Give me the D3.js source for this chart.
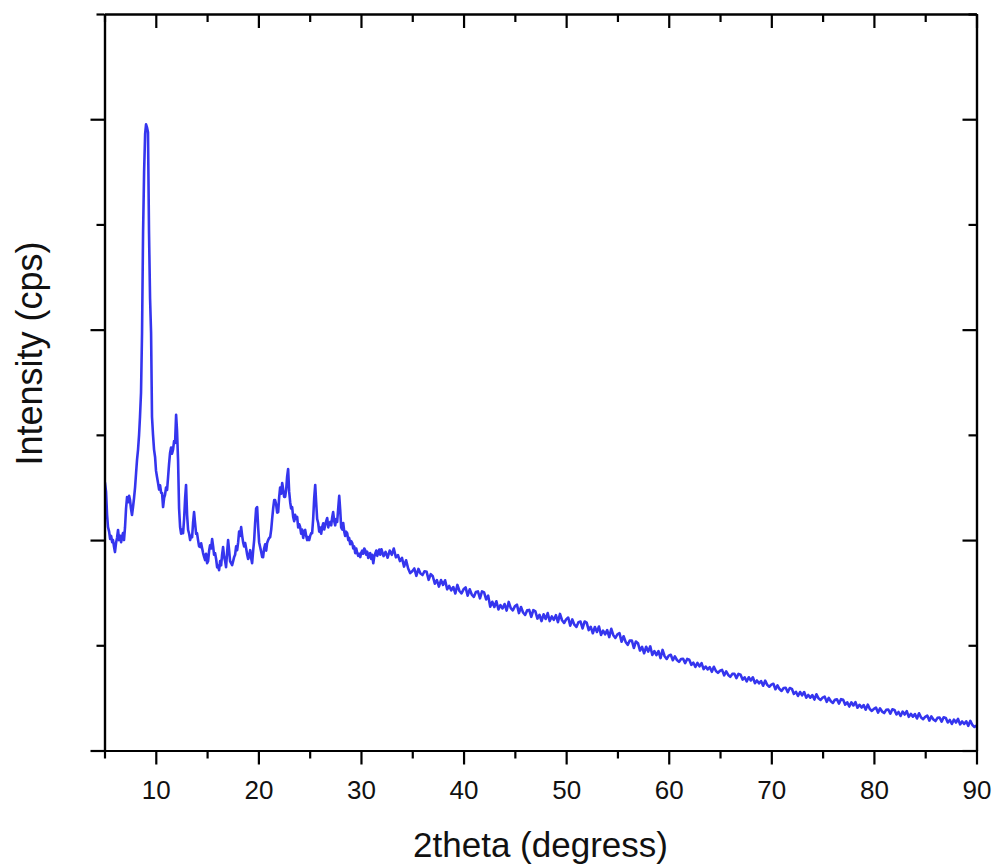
<!DOCTYPE html>
<html>
<head>
<meta charset="utf-8">
<script src="https://cdn.jsdelivr.net/npm/d3@7"></script>
<style>
  html, body { margin: 0; padding: 0; background: #fff; }
  svg { display: block; }
  text { font-family: "Liberation Sans", Arial, Helvetica, sans-serif; fill: #111; }
</style>
</head>
<body>
<svg id="chart" width="998" height="868"></svg>
<script>
// ---------------- DATA ----------------
const xMajorTicks = [10, 20, 30, 40, 50, 60, 70, 80, 90];
const xMinorTicks = [5, 15, 25, 35, 45, 55, 65, 75, 85];
const yMajorTicks = [0, 1000, 2000, 3000];
const yMinorTicks = [500, 1500, 2500, 3500];

// Low-angle region (5° - 32°)
const lowAngleTheta = [
 5.00,5.05,5.15,5.25,5.34,5.45,5.55,5.65,5.75,5.83,5.92,6.02,6.12,6.22,6.32,6.42,6.52,6.62,6.71,6.80,
 6.90,7.00,7.10,7.20,7.30,7.40,7.49,7.58,7.68,7.78,7.88,7.98,8.08,8.17,8.27,8.37,8.46,8.56,8.66,8.76,
 8.86,8.96,9.05,9.15,9.24,9.34,9.44,9.54,9.63,9.73,9.83,9.93,10.02,10.12,10.22,10.32,10.42,10.52,10.61,10.71,
 10.81,10.90,11.00,11.10,11.20,11.29,11.39,11.49,11.58,11.68,11.78,11.88,11.98,12.07,12.17,12.27,12.37,12.47,12.56,12.66,
 12.76,12.86,12.95,13.05,13.15,13.25,13.35,13.44,13.54,13.63,13.73,13.83,13.93,14.02,14.12,14.22,14.32,14.42,14.52,14.61,
 14.71,14.81,14.90,15.00,15.10,15.20,15.29,15.39,15.49,15.59,15.68,15.78,15.88,15.98,16.07,16.17,16.27,16.37,16.46,16.56,
 16.66,16.76,16.85,16.95,17.05,17.15,17.24,17.34,17.44,17.54,17.64,17.73,17.83,17.93,18.03,18.12,18.22,18.32,18.42,18.51,
 18.61,18.71,18.81,18.91,19.00,19.10,19.20,19.29,19.39,19.49,19.59,19.68,19.78,19.88,19.98,20.07,20.17,20.27,20.37,20.46,
 20.56,20.66,20.76,20.85,20.95,21.05,21.15,21.25,21.34,21.44,21.54,21.63,21.73,21.83,21.93,22.02,22.12,22.22,22.32,22.42,
 22.51,22.61,22.71,22.80,22.90,23.00,23.10,23.19,23.29,23.39,23.49,23.58,23.68,23.78,23.88,23.98,24.07,24.17,24.27,24.37,
 24.46,24.56,24.66,24.76,24.85,24.95,25.05,25.15,25.24,25.34,25.44,25.54,25.63,25.73,25.83,25.93,26.02,26.12,26.22,26.32,
 26.42,26.51,26.61,26.71,26.81,26.90,27.00,27.10,27.20,27.29,27.39,27.49,27.58,27.68,27.78,27.88,27.98,28.07,28.17,28.27,
 28.37,28.46,28.56,28.66,28.76,28.85,28.95,29.05,29.15,29.25,29.34,29.44,29.54,29.63,29.73,29.83,29.93,30.02,30.12,30.22,
 30.32,30.41,30.51,30.61,30.71,30.80,30.90,31.00,31.10,31.20,31.29,31.39,31.49,31.59,31.68,31.78,31.88
];
const lowAngleCounts = [
 1280,1271,1230,1120,1062,1040,1005,1020,990,1000,970,943,985,1010,1048,1000,1020,990,1014,1033,
 1000,1060,1150,1205,1180,1210,1190,1150,1119,1157,1200,1250,1320,1381,1430,1500,1586,1700,1986,2462,
 2750,2930,2976,2960,2938,2462,2150,1986,1586,1500,1430,1395,1330,1300,1271,1240,1260,1225,1224,1157,
 1200,1215,1250,1238,1300,1360,1414,1440,1410,1429,1470,1462,1595,1520,1381,1150,1062,1030,1050,1033,
 1100,1200,1262,1120,1048,1030,1000,1020,1014,1080,1133,1080,1030,1033,1000,970,967,985,960,938,
 920,905,935,890,900,950,975,960,1005,970,930,938,910,870,880,857,900,880,930,967,
 920,900,871,940,1000,950,900,890,881,900,920,930,970,952,990,1040,1020,1062,1020,990,
 970,986,960,930,910,925,952,915,890,950,1000,1080,1150,1157,1060,990,967,945,920,919,
 960,980,950,986,1000,1010,1014,1050,1100,1150,1190,1190,1170,1130,1133,1200,1250,1220,1271,1240,
 1205,1205,1240,1300,1338,1230,1180,1150,1157,1110,1090,1120,1100,1110,1060,1075,1062,1030,1050,1010,
 1040,1048,1020,1000,1014,1000,1020,1033,1033,1100,1200,1262,1180,1100,1081,1040,1060,1030,1062,1080,
 1050,1070,1090,1105,1060,1080,1086,1070,1110,1133,1090,1070,1100,1086,1150,1210,1140,1060,1050,1081,
 1040,1020,1040,1033,1000,1010,980,995,986,960,970,938,960,940,925,935,919,940,950,935,
 960,952,930,945,915,935,938,910,930,890,920,935,950,925,940,955,930
];

// High-angle region: scan from 32° to 90° with 0.2° step (one row per degree)
const highAngleStart = 32;
const highAngleStep = 0.2;
const highAngleCounts = [
 956,924,944,916,950,   930,960,918,929,900,   915,874,904,865,843,   852,865,830,863,841,
 834,852,849,811,838,   828,793,810,779,810,   787,809,766,782,761,   777,746,787,758,747,
 766,775,736,766,741,   730,753,756,723,756,   751,718,736,683,707,   682,709,670,691,675,
 696,665,706,677,666,   685,693,653,682,656,   644,666,668,635,667,   661,627,645,615,647,
 625,653,615,637,621,   643,610,649,619,606,   623,632,593,623,598,   587,610,613,580,613,
 608,572,588,557,587,   563,589,549,570,552,   572,539,578,548,535,   552,558,517,543,516,
 502,522,523,487,518,   510,475,492,462,493,   470,495,454,472,453,   472,439,478,448,435,
 451,455,429,447,430,   421,435,436,415,435,   431,407,417,397,416,   400,415,387,399,385,
 396,374,398,378,369,   379,383,357,376,359,   350,364,365,344,364,   360,337,348,328,348,
 333,348,320,333,319,   330,308,332,312,303,   313,317,291,309,292,   283,297,298,277,297,
 293,269,279,259,278,   262,278,251,264,251,   263,242,267,248,240,   251,256,231,250,234,
 226,241,243,223,244,   241,218,229,209,229,   214,230,203,217,204,   216,194,218,197,188,
 198,204,180,200,185,   178,193,195,175,196,   193,171,183,164,185,   171,187,160,174,161,
 173,152,177,157,149,   160,166,142,162,147,   140,155,157,137,158,   155,133,145,126,147,
 133,150,124,138,126,   139,117,141,121,112,   119
];

// ---------------- BUILD SERIES ----------------
const series = lowAngleTheta.map((t, i) => ({ x: t, y: lowAngleCounts[i] }))
  .concat(highAngleCounts.map((c, i) => ({ x: highAngleStart + i * highAngleStep, y: c })));

// ---------------- LAYOUT ----------------
const svg = d3.select("#chart");
const plotLeft = 104.5, plotRight = 976.5, plotTop = 14, plotBottom = 750.5;

const x = d3.scaleLinear().domain([5, 90]).range([plotLeft, plotRight]);
const y = d3.scaleLinear().domain([0, 3500]).range([plotBottom, plotTop]);

// Curve (clipped to plot box)
svg.append("clipPath").attr("id", "clip")
  .append("rect").attr("x", plotLeft).attr("y", plotTop)
  .attr("width", plotRight - plotLeft).attr("height", plotBottom - plotTop);

const line = d3.line().x(d => x(d.x)).y(d => y(d.y));
svg.append("path")
  .datum(series)
  .attr("clip-path", "url(#clip)")
  .attr("fill", "none")
  .attr("stroke", "#3535ee")
  .attr("stroke-width", 2.6)
  .attr("stroke-linejoin", "round")
  .attr("d", line);

// Axes helper
function styleAxis(g) {
  g.selectAll("path.domain").attr("stroke", "#000").attr("stroke-width", 2.2);
  g.selectAll(".tick line").attr("stroke", "#000").attr("stroke-width", 2.2);
}

// Bottom axis: major with labels, minor
const bottomMajor = svg.append("g").attr("transform", `translate(0,${plotBottom})`)
  .call(d3.axisBottom(x).tickValues(xMajorTicks).tickSize(14).tickSizeOuter(0).tickPadding(16).tickFormat(d3.format("d")));
bottomMajor.call(styleAxis);
bottomMajor.selectAll(".tick text").attr("font-size", 26).attr("fill", "#111")
  .attr("font-family", "'Liberation Sans', Arial, sans-serif");
const bottomMinor = svg.append("g").attr("transform", `translate(0,${plotBottom})`)
  .call(d3.axisBottom(x).tickValues(xMinorTicks).tickSize(8).tickSizeOuter(0).tickFormat(""));
bottomMinor.call(styleAxis);

// Top axis: ticks pointing down (into plot), no labels
const topMajor = svg.append("g").attr("transform", `translate(0,${plotTop})`)
  .call(d3.axisBottom(x).tickValues(xMajorTicks).tickSize(14).tickSizeOuter(0).tickFormat(""));
topMajor.call(styleAxis);
const topMinor = svg.append("g").attr("transform", `translate(0,${plotTop})`)
  .call(d3.axisBottom(x).tickValues(xMinorTicks).tickSize(8).tickSizeOuter(0).tickFormat(""));
topMinor.call(styleAxis);

// Left axis: ticks pointing outward (left), no labels
const leftMajor = svg.append("g").attr("transform", `translate(${plotLeft},0)`)
  .call(d3.axisLeft(y).tickValues(yMajorTicks).tickSize(14).tickSizeOuter(0).tickFormat(""));
leftMajor.call(styleAxis);
const leftMinor = svg.append("g").attr("transform", `translate(${plotLeft},0)`)
  .call(d3.axisLeft(y).tickValues(yMinorTicks).tickSize(8).tickSizeOuter(0).tickFormat(""));
leftMinor.call(styleAxis);

// Right axis: ticks pointing left (into plot), no labels
const rightMajor = svg.append("g").attr("transform", `translate(${plotRight},0)`)
  .call(d3.axisLeft(y).tickValues(yMajorTicks).tickSize(14).tickSizeOuter(0).tickFormat(""));
rightMajor.call(styleAxis);
const rightMinor = svg.append("g").attr("transform", `translate(${plotRight},0)`)
  .call(d3.axisLeft(y).tickValues(yMinorTicks).tickSize(8).tickSizeOuter(0).tickFormat(""));
rightMinor.call(styleAxis);

// Axis titles
svg.append("text")
  .attr("x", (plotLeft + plotRight) / 2)
  .attr("y", 857)
  .attr("text-anchor", "middle")
  .attr("font-size", 35)
  .text("2theta (degress)");

svg.append("text")
  .attr("transform", `translate(42,${(237 + 470) / 2}) rotate(-90)`)
  .attr("text-anchor", "middle")
  .attr("font-size", 36)
  .text("Intensity (cps)");
</script>
</body>
</html>
